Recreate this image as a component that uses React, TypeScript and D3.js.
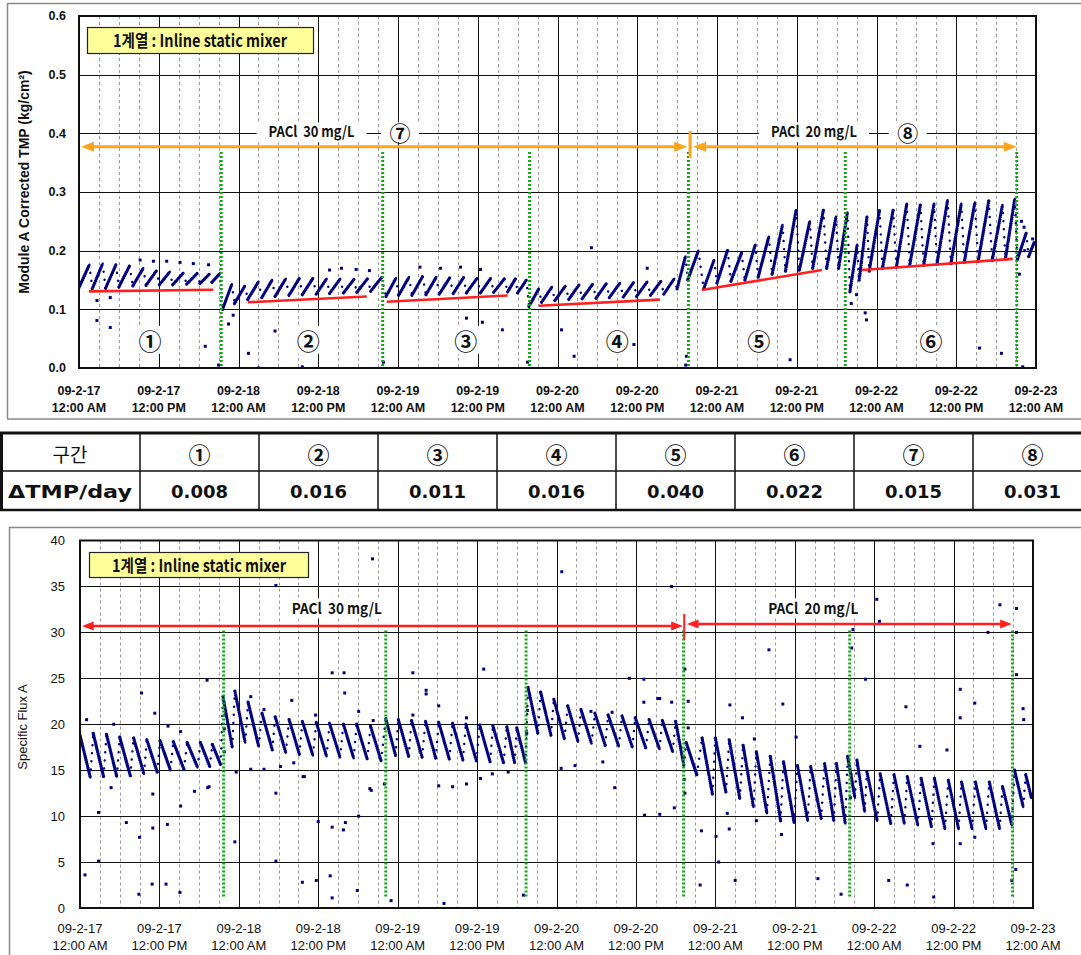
import React from "react";
import * as d3 from "d3";

// ---------------- DATA ----------------
const HOURS = 144; // 09-2-17 00:00 .. 09-2-23 00:00

const tickHours = [0, 12, 24, 36, 48, 60, 72, 84, 96, 108, 120, 132, 144];
const dayLabels = ["09-2-17", "09-2-17", "09-2-18", "09-2-18", "09-2-19", "09-2-19", "09-2-20", "09-2-20", "09-2-21", "09-2-21", "09-2-22", "09-2-22", "09-2-23"];
const clockLabels = ["12:00 AM", "12:00 PM", "12:00 AM", "12:00 PM", "12:00 AM", "12:00 PM", "12:00 AM", "12:00 PM", "12:00 AM", "12:00 PM", "12:00 AM", "12:00 PM", "12:00 AM"];

const tmpTicks = [0, 0.1, 0.2, 0.3, 0.4, 0.5, 0.6];
const tmpTickLabels = ["0.0", "0.1", "0.2", "0.3", "0.4", "0.5", "0.6"];
const fluxTicks = [0, 5, 10, 15, 20, 25, 30, 35, 40];
const fluxTickLabels = ["0", "5", "10", "15", "20", "25", "30", "35", "40"];

// filtration cycle start times (hours)
const cycleStart = [
  0.0, 2.0, 4.0, 6.0, 8.1, 10.1, 12.1, 14.1, 16.2, 18.2, 20.0,
  21.6, 23.4, 25.4, 27.5, 29.5, 31.6, 33.6, 35.7, 37.7, 39.8, 41.8, 43.9,
  46.2, 48.1, 50.1, 52.2, 54.2, 56.3, 58.3, 60.4, 62.4, 64.5, 66.0,
  67.7, 69.6, 71.6, 73.7, 75.7, 77.8, 79.8, 81.9, 83.9, 86.0, 88.0, 90.0,
  91.6, 94.0, 96.0, 98.1, 100.2, 102.2, 104.3, 106.3, 108.4, 110.4, 112.5, 114.3,
  116.0, 117.4, 118.9, 120.9, 123.0, 125.0, 127.1, 129.1, 131.2, 133.2, 135.3, 137.4, 139.4,
  141.2, 142.9,
];
// TMP at start (low) and end (high) of each cycle (kg/cm2)
const tmpLow = [
  0.137, 0.135, 0.136, 0.138, 0.140, 0.141, 0.142, 0.142, 0.143, 0.144, 0.146,
  0.100, 0.110, 0.117, 0.120, 0.122, 0.124, 0.125, 0.126, 0.127, 0.128, 0.129, 0.131,
  0.122, 0.124, 0.124, 0.125, 0.126, 0.127, 0.128, 0.128, 0.129, 0.130, 0.128,
  0.105, 0.112, 0.115, 0.117, 0.118, 0.119, 0.120, 0.121, 0.122, 0.124, 0.126, 0.135,
  0.150, 0.135, 0.145, 0.148, 0.150, 0.155, 0.160, 0.165, 0.167, 0.170, 0.170, 0.170,
  0.130, 0.150, 0.165, 0.170, 0.172, 0.175, 0.175, 0.177, 0.178, 0.180, 0.182, 0.183, 0.186,
  0.185, 0.190,
];
const tmpHigh = [
  0.176, 0.178, 0.176, 0.174, 0.170, 0.166, 0.164, 0.162, 0.161, 0.160, 0.162,
  0.143, 0.140, 0.147, 0.150, 0.152, 0.153, 0.153, 0.152, 0.152, 0.151, 0.152, 0.154,
  0.153, 0.155, 0.156, 0.155, 0.154, 0.154, 0.153, 0.153, 0.152, 0.152, 0.150,
  0.135, 0.138, 0.140, 0.142, 0.143, 0.144, 0.145, 0.146, 0.147, 0.148, 0.152, 0.190,
  0.200, 0.184, 0.201, 0.196, 0.210, 0.224, 0.244, 0.269, 0.250, 0.269, 0.258, 0.265,
  0.210, 0.258, 0.269, 0.269, 0.280, 0.278, 0.280, 0.286, 0.280, 0.282, 0.285, 0.278, 0.288,
  0.230, 0.215,
];
// Specific flux at start (high) and end (low) of each cycle
const fluxHigh = [
  18.8, 19.0, 18.9, 18.6, 18.5, 18.3, 18.2, 18.1, 18.0, 18.0, 17.8,
  23.0, 23.6, 22.4, 21.2, 20.8, 20.5, 20.3, 20.2, 20.1, 20.0, 20.0, 19.8,
  20.6, 20.5, 20.4, 20.3, 20.2, 20.1, 20.0, 19.9, 19.8, 19.7, 19.6,
  24.0, 23.5, 22.7, 22.0, 21.6, 21.2, 21.0, 20.9, 20.7, 20.5, 20.4, 20.3,
  18.0, 18.5, 18.5, 18.3, 17.7, 17.0, 16.5, 15.9, 15.5, 15.4, 15.7, 15.7,
  16.5, 16.1, 14.8, 14.6, 14.5, 14.3, 14.1, 14.1, 13.9, 13.7, 13.7, 13.7, 13.2,
  15.0, 14.5,
];
const fluxLow = [
  14.2, 14.3, 14.3, 14.4, 14.6, 14.8, 15.0, 15.1, 15.3, 15.4, 15.6,
  17.5, 18.0, 17.6, 17.2, 16.9, 16.7, 16.6, 16.5, 16.4, 16.3, 16.2, 16.0,
  16.6, 16.5, 16.4, 16.3, 16.2, 16.1, 16.0, 15.9, 15.8, 15.8, 15.8,
  19.0, 18.8, 18.4, 18.1, 17.9, 17.7, 17.6, 17.5, 17.4, 17.3, 17.0, 15.5,
  14.5, 12.4, 12.6, 11.9, 11.0, 10.3, 9.5, 9.3, 9.5, 9.7, 9.5, 9.2,
  12.0, 10.5, 9.5, 9.2, 9.2, 9.0, 8.8, 8.6, 8.6, 8.6, 8.6, 8.6, 9.0,
  11.0, 12.0,
];

// scattered single readings [hour, value]
const tmpOutliers: [number, number][] = [
  [2.7, 0.081], [4.7, 0.069], [19.0, 0.037], [21.0, 0.005], [25.5, 0.025], [29.5, 0.063], [23.2, 0.09],
  [33.6, 0.002], [2.7, 0.115], [4.7, 0.12], [45.8, 0.01], [9.2, 0.184], [11.2, 0.182], [13.2, 0.182],
  [15.2, 0.18], [17.2, 0.178], [19.5, 0.176], [37.7, 0.167], [39.5, 0.17], [41.7, 0.168], [43.7, 0.166],
  [51.3, 0.172], [54.4, 0.17], [57.4, 0.172], [60.4, 0.168], [60.7, 0.078], [63.7, 0.065], [58.3, 0.085],
  [77.1, 0.205], [72.6, 0.065], [74.5, 0.02], [83.5, 0.04], [85.5, 0.17], [107.0, 0.014], [118.5, 0.082],
  [118.3, 0.094], [135.5, 0.034], [138.8, 0.025], [142.0, 0.002], [141.8, 0.25], [142.2, 0.24],
  [142.3, 0.2], [143.5, 0.22], [91.4, 0.02], [91.3, 0.005], [67.5, 0.01], [22.5, 0.075], [27.0, 0.0],
  [116.2, 0.11], [117.0, 0.125], [141.5, 0.16],
];
const fluxOutliers: [number, number][] = [
  [0.75, 3.6], [2.8, 10.4], [2.8, 5.1], [4.7, 13.1], [7.0, 9.3], [9.0, 7.7], [8.9, 1.5], [11.0, 12.4],
  [11.0, 8.7], [10.9, 2.6], [13.2, 9.1], [13.0, 2.6], [15.2, 11.1], [15.1, 1.7], [17.3, 12.7], [19.3, 13.1],
  [23.4, 7.2], [23.6, 14.8], [25.8, 15.1], [27.8, 15.1], [29.6, 12.5], [29.6, 5.1], [30.3, 15.4], [32.3, 15.8],
  [33.6, 2.8], [33.9, 14.3], [35.7, 3.0], [36.0, 9.4], [37.8, 3.5], [38.1, 8.8], [38.1, 1.1], [39.8, 8.5],
  [40.1, 9.3], [41.9, 1.9], [42.1, 10.0], [44.0, 12.8], [46.0, 13.5],
  [1.0, 20.5], [5.1, 20.0], [9.3, 23.4], [11.3, 21.2], [13.3, 19.8], [15.2, 19.2], [19.2, 24.8], [29.6, 35.1],
  [44.2, 38.0], [38.1, 25.6], [39.9, 25.6], [40.0, 23.4], [32.0, 22.6], [25.8, 23.0], [27.8, 21.6], [35.6, 21.0],
  [42.1, 21.4], [44.3, 20.4], [72.8, 36.6], [89.4, 35.0], [50.3, 25.6], [52.3, 23.7], [52.3, 23.3], [54.2, 22.0],
  [50.3, 21.0], [58.4, 20.7], [61.0, 26.0], [83.0, 25.0], [85.2, 24.9], [87.3, 22.8], [89.4, 22.4], [85.2, 22.4],
  [77.2, 21.4], [80.4, 21.3], [19.5, 13.2], [33.7, 14.3], [43.8, 13.0], [54.2, 13.3], [56.3, 13.2], [58.4, 13.5],
  [60.5, 14.1], [62.3, 14.6], [64.7, 14.8], [72.7, 15.2], [74.8, 15.5], [79.0, 15.9], [80.8, 13.1],
  [104.1, 28.1], [98.2, 22.1], [100.1, 20.7], [106.2, 22.2], [108.2, 18.6], [101.9, 18.4], [87.6, 22.8],
  [91.9, 22.5], [91.9, 19.6], [91.4, 26.0], [116.8, 30.3], [116.6, 28.3], [120.4, 33.6], [120.8, 31.2],
  [118.7, 24.9], [124.8, 21.9], [126.9, 17.6], [131.0, 17.2], [133.0, 23.8], [133.0, 20.7], [135.2, 22.3],
  [137.2, 30.0], [139.0, 33.0], [141.5, 32.6], [141.5, 30.0], [141.5, 25.4], [142.5, 21.7], [142.6, 20.5],
  [133.0, 7.0], [128.9, 7.0], [135.2, 7.7], [93.9, 8.4], [96.1, 7.8], [98.1, 8.6], [97.8, 10.3], [102.2, 9.5],
  [106.0, 8.0], [85.3, 10.1], [87.6, 10.2], [89.8, 10.9], [93.7, 2.5], [99.0, 3.0], [111.5, 3.2], [115.0, 1.5],
  [122.2, 3.0], [125.0, 2.5], [129.0, 1.2], [140.8, 3.0], [141.4, 4.2], [96.5, 5.0], [55.0, 0.5], [47.0, 0.8],
  [67.0, 1.4], [21.8, 17.0], [21.8, 19.5], [21.9, 21.0], [67.5, 19.0], [67.6, 21.5], [91.3, 14.0], [91.4, 12.5],
  [116.4, 12.0], [116.5, 14.5],
];

// cleaning events (green dotted lines), hours
const tmpCleanings = [21.4, 45.7, 67.8, 91.7, 115.3, 141.1];
const fluxCleanings = [21.7, 46.2, 67.4, 91.2, 116.3, 140.9];

// red trend lines on TMP: [hour0, value0, hour1, value1]
const tmpTrends: [number, number, number, number][] = [
  [1.5, 0.1306, 20.2, 0.1335],
  [25.4, 0.112, 43.3, 0.122],
  [46.3, 0.113, 64.5, 0.1235],
  [69.2, 0.106, 87.4, 0.1165],
  [93.7, 0.133, 111.8, 0.167],
  [117.8, 0.167, 140.5, 0.186],
];
const zoneMarks = ["①", "②", "③", "④", "⑤", "⑥"];
const zoneHours = [10.7, 34.5, 58.2, 81.0, 102.3, 128.2];
const zoneValue = 0.048;

// dosing periods
const doseLabels = ["PACl  30 mg/L", "PACl  20 mg/L"];
const doseZoneMarks = ["⑦", "⑧"];
const tmpArrowHours = [0.3, 91.5, 92.4, 141.1];
const tmpArrowSplit = 91.95;
const tmpArrowValue = 0.377;
const tmpDoseLabelHours = [35.0, 110.6];
const tmpDoseMarkHours = [48.3, 124.7];
const fluxArrowHours = [0.3, 91.1, 91.7, 140.8];
const fluxArrowSplit = 91.3;
const fluxArrowValues = [30.7, 30.9];
const fluxDoseLabelHours = [38.8, 110.8];

// table
const tableHead = "구간";
const tableRowLabel = "ΔTMP/day";
const tableZones = ["①", "②", "③", "④", "⑤", "⑥", "⑦", "⑧"];
const tableValues = ["0.008", "0.016", "0.011", "0.016", "0.040", "0.022", "0.015", "0.031"];

const boxLabel = "1계열 : Inline static mixer";

// ---------------- STYLE ----------------
const ARIAL = "'Liberation Sans', Arial, sans-serif";
const DEJAVU = "'DejaVu Sans', sans-serif";
const KR = "'Noto Sans CJK KR', sans-serif";
const NAVY = "#00007f";
const GREEN = "#10a810";
const ORANGE = "#ffa41c";
const RED = "#ff1f1f";

type Cycle = { t0: number; tp: number; t1: number; a: number; b: number; next: number | null };
function buildCycles(starts: number[], a: number[], b: number[]): Cycle[] {
  const n = starts.length;
  return starts.map((t0, i) => {
    const t1 = i + 1 < n ? starts[i + 1] : HOURS;
    const tp = t0 + Math.min(0.78 * (t1 - t0), 1.6);
    return { t0, tp, t1, a: a[i], b: b[i], next: i + 1 < n ? a[i + 1] : null };
  });
}

function Scatter({ cycles, outliers, x, y, clip }: any) {
  const line = d3.line();
  return (
    <g clipPath={`url(#${clip})`}>
      {cycles.map((c: Cycle, i: number) => (
        <g key={i}>
          <path d={line([[x(c.t0), y(c.a)], [x(c.tp), y(c.b)]]) as string} stroke={NAVY} strokeWidth={3.3}
            strokeLinecap="round" strokeDasharray="0.1 2" fill="none" />
          {c.next !== null && (
            <path d={line([[x(c.tp), y(c.b)], [x(c.t1), y(c.next)]]) as string} stroke={NAVY} strokeWidth={2.4}
              strokeLinecap="round" strokeDasharray="0.1 8" fill="none" />
          )}
        </g>
      ))}
      {outliers.map((p: [number, number], i: number) => (
        <rect key={"o" + i} x={x(p[0]) - 1.5} y={y(p[1]) - 1.5} width={3} height={3} fill={NAVY} />
      ))}
    </g>
  );
}

function Arrow({ x1, x2, y1, y2, color, w, head }: any) {
  const L = head * 1.3;
  return (
    <g>
      <line x1={x1 + L - 2} x2={x2 - L + 2} y1={y1} y2={y2} stroke={color} strokeWidth={w} />
      <polygon points={`${x1},${y1} ${x1 + L},${y1 - head / 2} ${x1 + L},${y1 + head / 2}`} fill={color} />
      <polygon points={`${x2},${y2} ${x2 - L},${y2 - head / 2} ${x2 - L},${y2 + head / 2}`} fill={color} />
    </g>
  );
}

function Grid({ x, y, yTicks, left, right, top, bottom }: any) {
  const minor = d3.range(3, HOURS, 3).filter((h) => h % 12 !== 0);
  const major = d3.range(12, HOURS, 12);
  return (
    <g>
      {minor.map((h) => (
        <line key={"m" + h} x1={Math.round(x(h)) + 0.5} x2={Math.round(x(h)) + 0.5} y1={top} y2={bottom}
          stroke="#9a9a9a" strokeWidth={1} strokeDasharray="3 3" />
      ))}
      {yTicks.slice(1, -1).map((v: number) => (
        <line key={"h" + v} x1={left} x2={right} y1={Math.round(y(v)) + 0.5} y2={Math.round(y(v)) + 0.5}
          stroke="#111" strokeWidth={1} />
      ))}
      {major.map((h) => (
        <line key={"M" + h} x1={Math.round(x(h)) + 0.5} x2={Math.round(x(h)) + 0.5} y1={top} y2={bottom}
          stroke="#111" strokeWidth={1} />
      ))}
    </g>
  );
}

const PRE = { whiteSpace: "pre" } as React.CSSProperties;

export default function App() {
  const W = 1081, H = 955;

  const tx = d3.scaleLinear().domain([0, HOURS]).range([79, 1036]);
  const ty = d3.scaleLinear().domain([0, 0.6]).range([368, 16]);
  const fx = d3.scaleLinear().domain([0, HOURS]).range([80, 1033]);
  const fy = d3.scaleLinear().domain([0, 40]).range([908, 540.5]);

  const tmpCycles = buildCycles(cycleStart, tmpLow, tmpHigh);
  const fluxCycles = buildCycles(cycleStart, fluxHigh, fluxLow);

  const tL = tx(0), tR = tx(HOURS), tT = ty(0.6), tB = ty(0);
  const fL = fx(0), fR = fx(HOURS), fT = fy(40), fB = fy(0);

  const colX = [140, 259, 378, 497, 616, 735, 854, 973, 1092];

  return (
    <svg width={W} height={H} viewBox={`0 0 ${W} ${H}`} style={{ display: "block", background: "#fff" }}>
      <style>{`body{margin:0;}`}</style>
      <defs>
        <clipPath id="clipT"><rect x={tL} y={tT} width={tR - tL} height={tB - tT} /></clipPath>
        <clipPath id="clipF"><rect x={fL} y={fT} width={fR - fL} height={fB - fT} /></clipPath>
      </defs>
      <rect x={0} y={0} width={W} height={H} fill="#fff" />

      {/* ================= TOP CHART ================= */}
      <rect x={7.5} y={3.5} width={1100} height={415.5} fill="none" stroke="#8a8a8a" strokeWidth={1.5} />
      <Grid x={tx} y={ty} yTicks={tmpTicks} left={tL} right={tR} top={tT} bottom={tB} />

      {doseLabels.map((lab, i) => (
        <g key={"dl" + i}>
          <rect x={tx(tmpDoseLabelHours[i]) - 55} y={ty(0.4) - 11} width={110} height={20} fill="#fff" />
          <text x={tx(tmpDoseLabelHours[i])} y={ty(0.4) + 3.5} textAnchor="middle" fontFamily={KR} fontWeight={700}
            fontSize={15} textLength={86} lengthAdjust="spacingAndGlyphs" fill="#111" style={PRE}>{lab}</text>
          <rect x={tx(tmpDoseMarkHours[i]) - 19} y={ty(0.4) - 11} width={38} height={20} fill="#fff" />
          <text x={tx(tmpDoseMarkHours[i])} y={ty(0.4) - 1} textAnchor="middle" dominantBaseline="central"
            fontFamily={KR} fontWeight={700} fontSize={21} fill="#111">{doseZoneMarks[i]}</text>
        </g>
      ))}

      {zoneMarks.map((m, i) => (
        <g key={"z" + i}>
          <rect x={tx(zoneHours[i]) - 14} y={ty(zoneValue) - 14} width={28} height={28} fill="#fff" />
          <text x={tx(zoneHours[i])} y={ty(zoneValue)} textAnchor="middle" dominantBaseline="central"
            fontFamily={KR} fontWeight={700} fontSize={23} fill="#111">{m}</text>
        </g>
      ))}

      <Scatter cycles={tmpCycles} outliers={tmpOutliers} x={tx} y={ty} clip="clipT" />

      {tmpTrends.map((s, i) => (
        <line key={"tr" + i} x1={tx(s[0])} y1={ty(s[1])} x2={tx(s[2])} y2={ty(s[3])} stroke={RED} strokeWidth={2.6} />
      ))}

      {tmpCleanings.map((h, i) => (
        <line key={"gc" + i} x1={tx(h)} x2={tx(h)} y1={ty(0.368)} y2={ty(0)} stroke={GREEN} strokeWidth={3}
          strokeDasharray="2 2" />
      ))}

      <Arrow x1={tx(tmpArrowHours[0])} x2={tx(tmpArrowHours[1])} y1={ty(tmpArrowValue)} y2={ty(tmpArrowValue)}
        color={ORANGE} w={3} head={10} />
      <Arrow x1={tx(tmpArrowHours[2])} x2={tx(tmpArrowHours[3])} y1={ty(tmpArrowValue)} y2={ty(tmpArrowValue)}
        color={ORANGE} w={3} head={10} />
      <line x1={tx(tmpArrowSplit)} x2={tx(tmpArrowSplit)} y1={ty(0.404)} y2={ty(0.358)} stroke={ORANGE} strokeWidth={3} />

      <rect x={tL + 8.5} y={27.5} width={226} height={26} fill="#ffff99" stroke="#222" strokeWidth={1.2} />
      <text x={tL + 121} y={46.5} textAnchor="middle" fontFamily={KR} fontWeight={700} fontSize={17}
        textLength={174} lengthAdjust="spacingAndGlyphs" fill="#111">{boxLabel}</text>

      <rect x={tL} y={tT} width={tR - tL} height={tB - tT} fill="none" stroke="#111" strokeWidth={2} />

      {tmpTicks.map((v, i) => (
        <text key={"ty" + i} x={66} y={ty(v)} dy="0.35em" textAnchor="end" fontFamily={ARIAL} fontWeight={700}
          fontSize={12.5} fill="#111">{tmpTickLabels[i]}</text>
      ))}
      {tickHours.map((h, i) => (
        <g key={"tx" + i}>
          <text x={tx(h)} y={395} textAnchor="middle" fontFamily={ARIAL} fontWeight={700} fontSize={12.5} fill="#111">{dayLabels[i]}</text>
          <text x={tx(h)} y={411.5} textAnchor="middle" fontFamily={ARIAL} fontWeight={700} fontSize={12.5} fill="#111">{clockLabels[i]}</text>
        </g>
      ))}
      <text transform={`translate(29,182) rotate(-90)`} textAnchor="middle" fontFamily={ARIAL} fontWeight={700}
        fontSize={14} fill="#111">Module A Corrected TMP (kg/cm²)</text>

      {/* ================= TABLE ================= */}
      <line x1={0} x2={W} y1={433} y2={433} stroke="#111" strokeWidth={3} />
      <line x1={0} x2={W} y1={471} y2={471} stroke="#111" strokeWidth={1.5} />
      <line x1={0} x2={W} y1={510} y2={510} stroke="#111" strokeWidth={2.5} />
      <line x1={1.5} x2={1.5} y1={432} y2={511} stroke="#111" strokeWidth={3} />
      {colX.map((cx, i) => (
        <line key={"c" + i} x1={cx} x2={cx} y1={433} y2={510} stroke="#111" strokeWidth={1.5} />
      ))}
      <text x={70} y={453} textAnchor="middle" dominantBaseline="central" fontFamily={KR} fontSize={19} fill="#111">{tableHead}</text>
      <text x={70} y={491} textAnchor="middle" dominantBaseline="central" fontFamily={DEJAVU} fontWeight={700}
        fontSize={18} textLength={124} lengthAdjust="spacingAndGlyphs" fill="#111">{tableRowLabel}</text>
      {tableZones.map((z, i) => (
        <g key={"tb" + i}>
          <text x={(colX[i] + colX[i + 1]) / 2} y={453} textAnchor="middle" dominantBaseline="central"
            fontFamily={KR} fontWeight={700} fontSize={22} fill="#111">{z}</text>
          <text x={(colX[i] + colX[i + 1]) / 2} y={491} textAnchor="middle" dominantBaseline="central"
            fontFamily={DEJAVU} fontWeight={700} fontSize={18} fill="#111">{tableValues[i]}</text>
        </g>
      ))}

      {/* ================= BOTTOM CHART ================= */}
      <rect x={9.5} y={527.5} width={1100} height={500} fill="none" stroke="#8a8a8a" strokeWidth={1.5} />
      <Grid x={fx} y={fy} yTicks={fluxTicks} left={fL} right={fR} top={fT} bottom={fB} />

      {doseLabels.map((lab, i) => (
        <g key={"fdl" + i}>
          <rect x={fx(fluxDoseLabelHours[i]) - 50} y={fy(33.7)} width={100} height={20} fill="#fff" />
          <text x={fx(fluxDoseLabelHours[i])} y={fy(33.7) + 15.5} textAnchor="middle" fontFamily={KR} fontWeight={700}
            fontSize={15} textLength={90} lengthAdjust="spacingAndGlyphs" fill="#111" style={PRE}>{lab}</text>
        </g>
      ))}

      <Scatter cycles={fluxCycles} outliers={fluxOutliers} x={fx} y={fy} clip="clipF" />

      {fluxCleanings.map((h, i) => (
        <line key={"gf" + i} x1={fx(h)} x2={fx(h)} y1={fy(30.2)} y2={fy(1.1)} stroke={GREEN} strokeWidth={3}
          strokeDasharray="2 2" />
      ))}

      <Arrow x1={fx(fluxArrowHours[0])} x2={fx(fluxArrowHours[1])} y1={fy(fluxArrowValues[0])} y2={fy(fluxArrowValues[0])}
        color={RED} w={2.5} head={9} />
      <Arrow x1={fx(fluxArrowHours[2])} x2={fx(fluxArrowHours[3])} y1={fy(fluxArrowValues[1])} y2={fy(fluxArrowValues[1])}
        color={RED} w={2.5} head={9} />
      <line x1={fx(fluxArrowSplit)} x2={fx(fluxArrowSplit)} y1={fy(32.0)} y2={fy(29.2)} stroke={RED} strokeWidth={2} />

      <rect x={fL + 9.5} y={552.5} width={219} height={25} fill="#ffff99" stroke="#222" strokeWidth={1.2} />
      <text x={fL + 119} y={571.5} textAnchor="middle" fontFamily={KR} fontWeight={700} fontSize={17}
        textLength={174} lengthAdjust="spacingAndGlyphs" fill="#111">{boxLabel}</text>

      <rect x={fL} y={fT} width={fR - fL} height={fB - fT} fill="none" stroke="#111" strokeWidth={2} />

      {fluxTicks.map((v, i) => (
        <text key={"fy" + i} x={65} y={fy(v)} dy="0.35em" textAnchor="end" fontFamily={ARIAL} fontSize={13}
          fill="#111">{fluxTickLabels[i]}</text>
      ))}
      {tickHours.map((h, i) => (
        <g key={"fx" + i}>
          <text x={fx(h)} y={932.5} textAnchor="middle" fontFamily={ARIAL} fontSize={13} fill="#111">{dayLabels[i]}</text>
          <text x={fx(h)} y={950} textAnchor="middle" fontFamily={ARIAL} fontSize={13} fill="#111">{clockLabels[i]}</text>
        </g>
      ))}
      <text transform={`translate(27,727) rotate(-90)`} textAnchor="middle" fontFamily={ARIAL} fontSize={13}
        fill="#111">Specific Flux A</text>
    </svg>
  );
}
